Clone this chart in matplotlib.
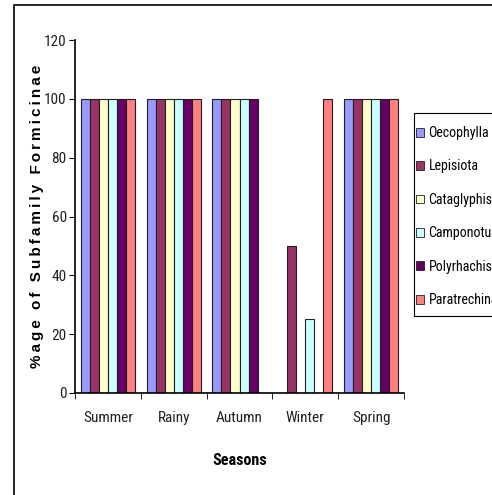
import matplotlib.pyplot as plt
import matplotlib.patches as mpatches
import numpy as np

# Datos
estaciones = ["Summer", "Rainy", "Autumn", "Winter", "Spring"]
generos = ["Oecophylla", "Lepisiota", "Cataglyphis", "Camponotus", "Polyrhachis", "Paratrechina"]
oecophylla = [100, 100, 100, 0, 100]
lepisiota = [100, 100, 100, 50, 100]
cataglyphis = [100, 100, 100, 0, 100]
camponotus = [100, 100, 100, 25, 100]
polyrhachis = [100, 100, 100, 0, 100]
paratrechina = [100, 100, 0, 100, 100]
series = [oecophylla, lepisiota, cataglyphis, camponotus, polyrhachis, paratrechina]
colores = ["#9999FF", "#993366", "#FFFFCC", "#CCFFFF", "#660066", "#FF8080"]

plt.rcParams['font.family'] = ['Roboto Condensed', 'DejaVu Sans']

fig = plt.figure(figsize=(4.92, 4.95), dpi=100)
ax = fig.add_axes([75/492, 1 - 393/495, 329/492, 353/495])

x = np.arange(len(estaciones))
ancho = 0.137
for i, (valores, color) in enumerate(zip(series, colores)):
    desplazamiento = (i - (len(series) - 1) / 2) * ancho
    ax.bar(x + desplazamiento, valores, width=ancho, color=color,
           edgecolor="#202020", linewidth=0.8, label=generos[i])

ax.set_xlim(-0.5, len(estaciones) - 0.5)
ax.set_ylim(0, 120)
ax.set_yticks(range(0, 121, 20))
ax.set_xticks(x)
ax.set_xticklabels(estaciones)
ax.set_xticks(np.arange(-0.5, len(estaciones), 1), minor=True)
ax.tick_params(axis="x", which="major", length=0, pad=13, labelsize=11, labelcolor="#202020")
ax.tick_params(axis="x", which="minor", length=4, direction="out")
ax.tick_params(axis="y", length=4, direction="out", pad=2, labelsize=11, labelcolor="#202020")

for lado in ["top", "right"]:
    ax.spines[lado].set_visible(False)
ax.spines["left"].set_linewidth(1.2)
ax.spines["bottom"].set_linewidth(1.2)

# Etiqueta del eje y con letras separadas
etiqueta_y = "\u2009".join("%age of Subfamily Formicinae")
ax.set_ylabel(etiqueta_y, fontsize=11, fontweight="bold",
              family=["Liberation Sans", "DejaVu Sans"])
ax.yaxis.set_label_coords(-0.093, 0.5)
ax.set_xlabel("Seasons", fontsize=11.5, fontweight="bold")
ax.xaxis.set_label_coords(0.5, -0.17)

# Leyenda con marco propio
marco_leyenda = mpatches.Rectangle((414/492, 1 - 316/495), 0.3, (316 - 113)/495,
                                   transform=fig.transFigure, fill=False,
                                   edgecolor="black", linewidth=0.8)
fig.patches.append(marco_leyenda)
leyenda = fig.legend(loc="upper left", bbox_to_anchor=(416/492, 1 - 126/495),
                     fontsize=10, frameon=False, labelspacing=1.4,
                     handlelength=0.6, handleheight=0.6, handletextpad=0.3,
                     borderpad=0, borderaxespad=0)
for handle in leyenda.legend_handles:
    handle.set_linewidth(0.6)

# Marco exterior
marco = mpatches.Rectangle((14/492, -0.1), 1.2, 1.1 - 5/495, transform=fig.transFigure,
                           fill=False, edgecolor="black", linewidth=1.2)
fig.patches.append(marco)

plt.savefig("out.png", dpi=100)
